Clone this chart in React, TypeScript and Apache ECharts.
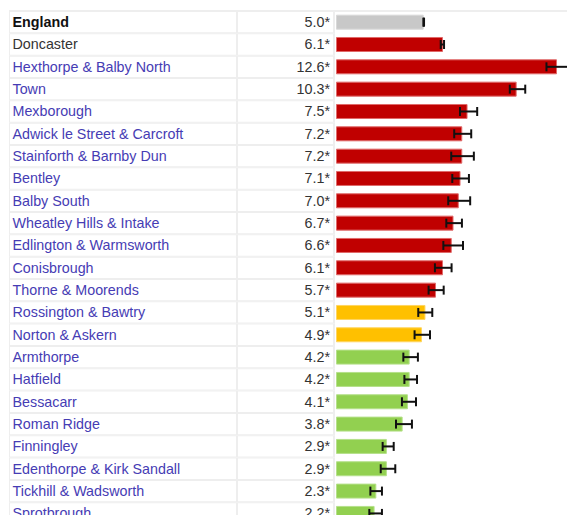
import React, { useEffect, useRef } from "react";
import * as echarts from "echarts";

const areas = [
  "England", "Doncaster", "Hexthorpe & Balby North", "Town", "Mexborough",
  "Adwick le Street & Carcroft", "Stainforth & Barnby Dun", "Bentley", "Balby South",
  "Wheatley Hills & Intake", "Edlington & Warmsworth", "Conisbrough", "Thorne & Moorends",
  "Rossington & Bawtry", "Norton & Askern", "Armthorpe", "Hatfield", "Bessacarr",
  "Roman Ridge", "Finningley", "Edenthorpe & Kirk Sandall", "Tickhill & Wadsworth", "Sprotbrough",
];
const values = [5.0, 6.1, 12.6, 10.3, 7.5, 7.2, 7.2, 7.1, 7.0, 6.7, 6.6, 6.1, 5.7, 5.1, 4.9, 4.2, 4.2, 4.1, 3.8, 2.9, 2.9, 2.3, 2.2];
const lowerCI = [4.98, 5.97, 12.0, 9.91, 7.07, 6.74, 6.57, 6.63, 6.40, 6.29, 6.12, 5.64, 5.28, 4.69, 4.48, 3.84, 3.90, 3.76, 3.42, 2.66, 2.55, 1.96, 1.90];
const upperCI = [5.02, 6.16, 13.4, 10.79, 8.05, 7.71, 7.86, 7.58, 7.65, 7.18, 7.24, 6.59, 6.14, 5.49, 5.36, 4.67, 4.62, 4.56, 4.33, 3.29, 3.38, 2.62, 2.62];
// comparison with England: "eng", "worse", "similar", "better"
const significance = [
  "eng", "worse", "worse", "worse", "worse", "worse", "worse", "worse", "worse", "worse", "worse", "worse", "worse",
  "similar", "similar", "better", "better", "better", "better", "better", "better", "better", "better",
];

const fillColors: Record<string, string> = { eng: "#C8C8C8", worse: "#C00000", similar: "#FFC000", better: "#92D050" };
const edgeColors: Record<string, string> = { eng: "#D8D8D8", worse: "#E06A6A", similar: "#FFD560", better: "#B5E08A" };

const FONT = "'Liberation Sans', Arial, sans-serif";

export default function App() {
  const ref = useRef<HTMLDivElement>(null);
  useEffect(() => {
    if (!ref.current) return;
    const chart = echarts.init(ref.current, null, { renderer: "svg" });
    const rowH = 22.33;
    chart.setOption({
      animation: false,
      grid: { left: 336, top: 11, width: 228, height: rowH * areas.length, outerBoundsMode: "none", containLabel: false },
      xAxis: {
        type: "value", min: 0, max: 13, show: false,
      },
      yAxis: {
        type: "category", data: areas, inverse: true, show: false,
      },
      graphic: [
        { type: "rect", shape: { x: 9, y: 10, width: 560, height: 2 }, style: { fill: "#EEEEEE" }, silent: true },
      ],
      series: [
        {
          type: "custom",
          name: "table",
          clip: false,
          z: 1,
          data: areas.map((a, i) => [0, i]),
          renderItem: (params: any, api: any) => {
            const i = api.value(1);
            const c = api.coord([0, i]);
            const h = api.size([0, 1])[1];
            const top = c[1] - h / 2;
            const name = areas[i];
            const isEng = i === 0;
            const isDist = i === 1;
            return {
              type: "group",
              children: [
                { type: "rect", shape: { x: 9, y: top, width: 326, height: h }, style: { fill: "#EEEEEE" } },
                { type: "rect", shape: { x: 10, y: top + 1, width: 226, height: h - 2 }, style: { fill: "#FFFFFF" } },
                { type: "rect", shape: { x: 238, y: top + 1, width: 95, height: h - 2 }, style: { fill: "#FFFFFF" } },
                {
                  type: "text",
                  x: 12.5, y: c[1],
                  style: {
                    text: name, fill: isEng ? "#111111" : isDist ? "#333333" : "#463CB4",
                    font: `${isEng ? "bold " : ""}14.3px ${FONT}`, textVerticalAlign: "middle", textAlign: "left",
                  },
                },
                {
                  type: "text",
                  x: 330, y: c[1],
                  style: {
                    text: values[i].toFixed(1) + "*", fill: "#333333",
                    font: `14.3px ${FONT}`, textVerticalAlign: "middle", textAlign: "right",
                  },
                },
              ],
            };
          },
        },
        {
          type: "bar",
          z: 2,
          barWidth: 15,
          data: values.map((v, i) => ({
            value: v,
            itemStyle: { color: fillColors[significance[i]], borderColor: edgeColors[significance[i]], borderWidth: 1 },
          })),
        },
        {
          type: "custom",
          name: "ci",
          z: 3,
          clip: false,
          data: areas.map((a, i) => [i, lowerCI[i], upperCI[i]]),
          renderItem: (params: any, api: any) => {
            const i = api.value(0);
            const lo = api.coord([api.value(1), i]);
            const hi = api.coord([api.value(2), i]);
            const y = lo[1];
            const cap = 4.5;
            const st = { stroke: "#111111", lineWidth: 2 };
            return {
              type: "group",
              children: [
                { type: "line", shape: { x1: lo[0], y1: y, x2: hi[0], y2: y }, style: st },
                { type: "line", shape: { x1: lo[0], y1: y - cap, x2: lo[0], y2: y + cap }, style: st },
                { type: "line", shape: { x1: hi[0], y1: y - cap, x2: hi[0], y2: y + cap }, style: st },
              ],
            };
          },
        },
      ],
    });
    return () => chart.dispose();
  }, []);
  return (
    <div
      ref={ref}
      style={{ position: "absolute", left: 0, top: 0, width: 567, height: 515, background: "#FFFFFF" }}
    />
  );
}
